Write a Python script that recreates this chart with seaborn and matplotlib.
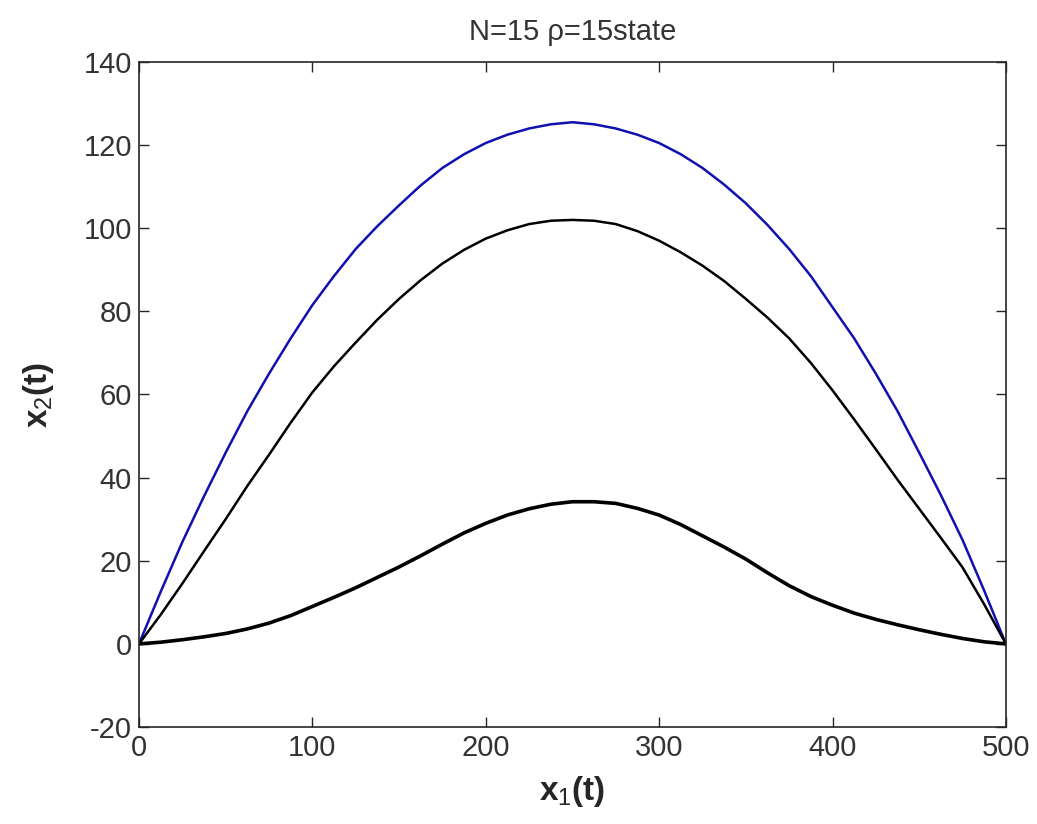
import numpy as np
import pandas as pd
import matplotlib
matplotlib.use("Agg")
import matplotlib.pyplot as plt
import seaborn as sns

# x_1(t) sample points and the three trajectories x_2(t)
x1 = [0, 12.5, 25, 37.5, 50, 62.5, 75, 87.5, 100, 112.5, 125, 137.5, 150,
      162.5, 175, 187.5, 200, 212.5, 225, 237.5, 250, 262.5, 275, 287.5,
      300, 312.5, 325, 337.5, 350, 362.5, 375, 387.5, 400, 412.5, 425,
      437.5, 450, 462.5, 475, 487.5, 500]
x2_blue = [0, 12.5, 24.5, 35.5, 46, 56, 65, 73.5, 81.5, 88.5, 95, 100.5, 105.5,
           110.3, 114.5, 117.8, 120.5, 122.5, 124, 125, 125.5, 125, 124, 122.5,
           120.5, 117.8, 114.5, 110.5, 106, 100.8, 95, 88.5, 81, 73.5, 65,
           56, 46, 35.8, 25, 12.8, 0]
x2_mid = [0, 7, 14.5, 22.3, 30, 38, 45.5, 53.2, 60.5, 66.8, 72.5, 78, 83,
          87.5, 91.5, 94.8, 97.5, 99.5, 101, 101.8, 102, 101.8, 101, 99.3,
          97, 94.2, 91, 87.3, 83, 78.5, 73.5, 67.6, 61, 54, 46.8,
          39.5, 32.5, 25.5, 18.4, 9.5, 0]
x2_low = [0, 0.4, 1.0, 1.7, 2.5, 3.6, 5, 6.8, 9, 11.2, 13.5, 16, 18.5,
          21.2, 24, 26.7, 29, 31, 32.5, 33.6, 34.2, 34.2, 33.8, 32.6,
          31, 28.7, 26, 23.3, 20.4, 17.1, 14, 11.4, 9.3, 7.4, 5.9,
          4.6, 3.4, 2.3, 1.3, 0.5, 0]

n = len(x1)
df = pd.DataFrame({"x1": x1 * 3,
                   "x2": x2_blue + x2_mid + x2_low,
                   "curve": ["blue"] * n + ["mid"] * n + ["low"] * n})

sns.set_style("ticks")
plt.rcParams['font.family'] = ['Liberation Sans', 'DejaVu Sans']
plt.rcParams['axes.unicode_minus'] = False
plt.rcParams['mathtext.fontset'] = 'custom'
plt.rcParams['mathtext.rm'] = 'Liberation Sans'
plt.rcParams['mathtext.it'] = 'Liberation Sans'
plt.rcParams['mathtext.bf'] = 'Liberation Sans:bold'

fig = plt.figure(figsize=(10.37, 8.24), dpi=100)
ax = fig.add_axes([0.134, 0.1177, 0.836, 0.8071])

sns.lineplot(data=df[df.curve == "blue"], x="x1", y="x2", color="#1010b0", lw=1.8, ax=ax)
sns.lineplot(data=df[df.curve == "mid"], x="x1", y="x2", color="black", lw=1.8, ax=ax)
sns.lineplot(data=df[df.curve == "low"], x="x1", y="x2", color="black", lw=2.6, ax=ax)

ax.set_xlim(0, 500)
ax.set_ylim(-20, 140)
ax.set_xticks([0, 100, 200, 300, 400, 500])
ax.set_yticks(np.arange(-20, 141, 20))
ax.tick_params(direction="in", length=7, width=1, top=True, right=True,
               labelsize=21, labelcolor="#333333", pad=5)
for s in ax.spines.values():
    s.set_linewidth(1.2)
    s.set_visible(True)

ax.set_xlabel(r'$\mathbf{x}_{1}\mathbf{(t)}$', fontsize=24, labelpad=9)
ax.set_ylabel(r'$\mathbf{x}_{2}\mathbf{(t)}$', fontsize=24, labelpad=20)
ax.set_title("N=15 ρ=15state", fontsize=21, color="#333333", pad=16)

fig.savefig("out.png", dpi=100)
